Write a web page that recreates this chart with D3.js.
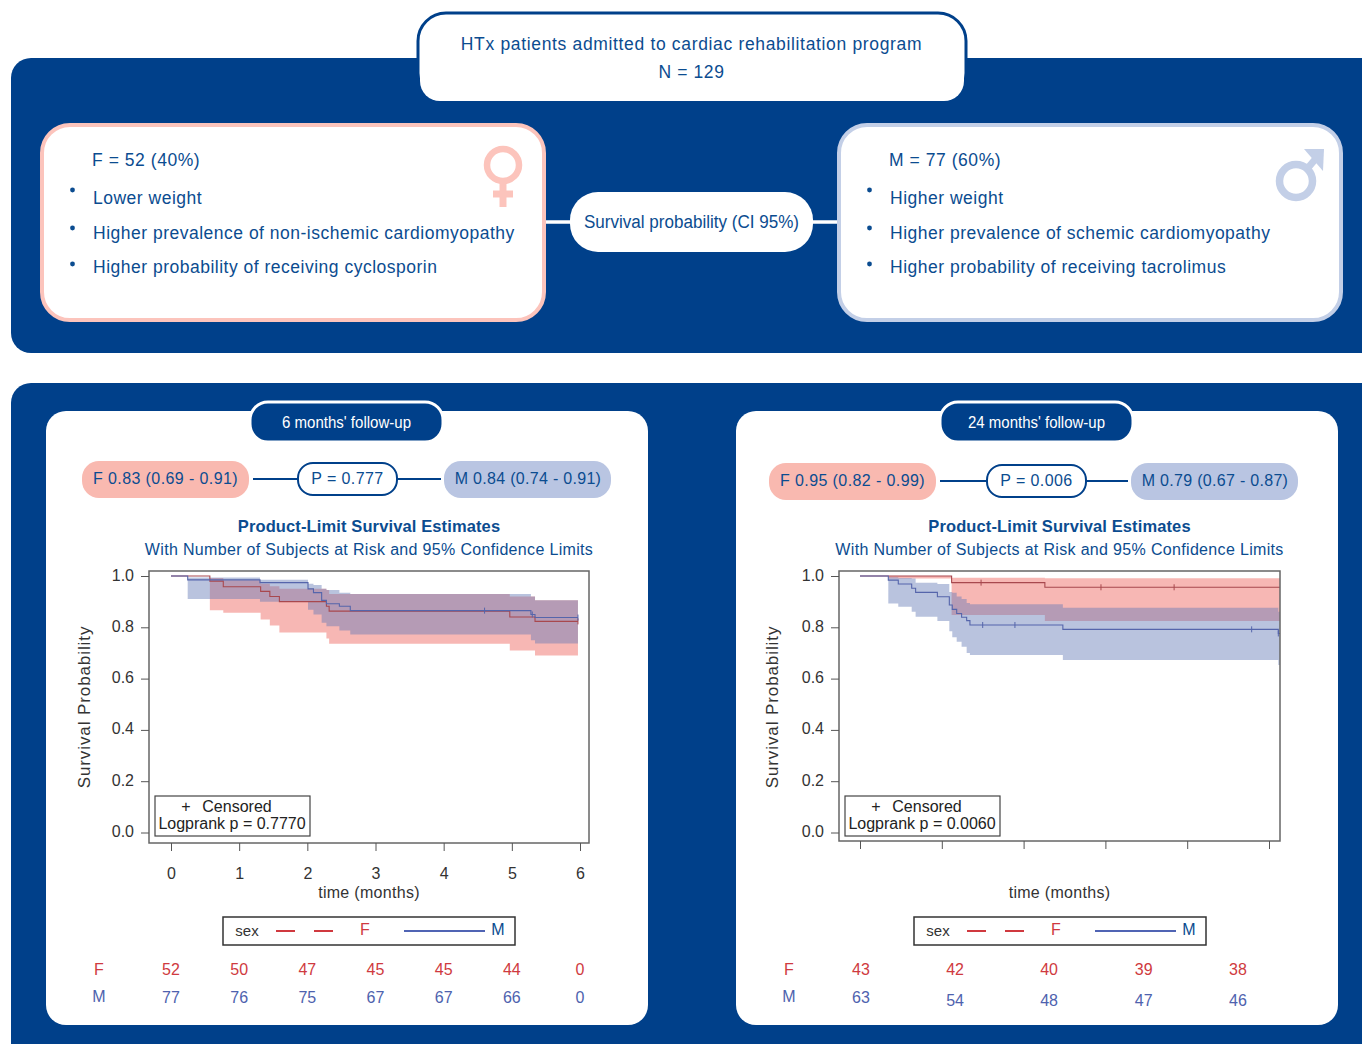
<!DOCTYPE html>
<html>
<head>
<meta charset="utf-8">
<script src="https://cdn.jsdelivr.net/npm/d3@7"></script>
<style>
  body { margin: 0; background: #fff; overflow: hidden; }
  text { font-family: "Liberation Sans", Arial, sans-serif; }
</style>
</head>
<body>
<div id="chart"></div>
<script>
const navy = "#00408a";
const textBlue = "#0b4c90";

// 6 months curves
const f6Time = [0, 0.57, 0.767, 1.315, 1.45, 1.59, 2.28, 2.32, 4.97, 5.34, 5.97];
const f6Surv = [1, 0.98, 0.958, 0.94, 0.92, 0.90, 0.882, 0.863, 0.84, 0.823, 0.823];
const f6Low = [1, 0.866, 0.857, 0.83, 0.807, 0.78, 0.756, 0.736, 0.71, 0.69, 0.69];
const f6Up = [1, 0.992, 0.983, 0.97, 0.96, 0.95, 0.945, 0.93, 0.92, 0.905, 0.905];
const f6Cens = [5.97];
const m6Time = [0, 0.245, 1.305, 2.01, 2.09, 2.21, 2.28, 2.47, 2.63, 5.28, 5.34, 5.97];
const m6Surv = [1, 0.985, 0.974, 0.95, 0.935, 0.905, 0.892, 0.882, 0.865, 0.85, 0.838, 0.838];
const m6Low = [1, 0.91, 0.90, 0.868, 0.85, 0.818, 0.804, 0.788, 0.772, 0.75, 0.737, 0.737];
const m6Up = [1, 0.994, 0.985, 0.97, 0.965, 0.95, 0.945, 0.935, 0.93, 0.92, 0.905, 0.905];
const m6Cens = [4.6, 5.3, 5.97];

// 24 months curves (axis has ticks every 5 units, unlabeled in the source)
const f24Time = [0, 1.73, 5.6, 11.3, 25.67];
const f24Surv = [1, 1, 0.974, 0.956, 0.956];
const f24Low = [1, 0.99, 0.848, 0.825, 0.825];
const f24Up = [1, 1, 0.993, 0.991, 0.991];
const f24Cens = [7.4, 14.73, 19.2];
const m24Time = [0, 1.73, 2.34, 3.16, 3.4, 4.73, 5.46, 5.64, 5.91, 6.21, 6.52, 6.72, 12.4, 25.57, 25.67];
const m24Surv = [1, 0.984, 0.969, 0.952, 0.936, 0.919, 0.887, 0.87, 0.854, 0.839, 0.826, 0.809, 0.792, 0.776, 0.776];
const m24Low = [1, 0.893, 0.88, 0.861, 0.841, 0.825, 0.785, 0.761, 0.744, 0.724, 0.70, 0.692, 0.673, 0.653, 0.653];
const m24Up = [1, 0.995, 0.992, 0.99, 0.974, 0.969, 0.938, 0.935, 0.92, 0.91, 0.895, 0.89, 0.876, 0.861, 0.861];
const m24Cens = [7.5, 9.47, 23.94, 25.57];

// at risk tables
const risk6Time = [0, 1, 2, 3, 4, 5, 6];
const risk6F = [52, 50, 47, 45, 45, 44, 0];
const risk6M = [77, 76, 75, 67, 67, 66, 0];
const risk24Time = [0.06, 5.81, 11.56, 17.34, 23.1];
const risk24F = [43, 42, 40, 39, 38];
const risk24M = [63, 54, 48, 47, 46];

const yTicks = [0, 0.2, 0.4, 0.6, 0.8, 1];
const x6Ticks = [0, 1, 2, 3, 4, 5, 6];
const x24Ticks = [0, 5, 10, 15, 20, 25];

const femaleLines = ["Lower weight", "Higher prevalence of non-ischemic cardiomyopathy", "Higher probability of receiving cyclosporin"];
const maleLines = ["Higher weight", "Higher prevalence of schemic cardiomyopathy", "Higher probability of receiving tacrolimus"];

const svg = d3.select("#chart").append("svg")
  .attr("width", 1362).attr("height", 1044);

function zip(t, s, lo, up) {
  return t.map((d, i) => ({t: d, s: s[i], lo: lo[i], up: up[i]}));
}

function label(g, x, y, str, size, color, anchor) {
  return g.append("text")
    .attr("x", x).attr("y", y + 2)
    .attr("text-anchor", anchor || "middle")
    .attr("dominant-baseline", "middle")
    .style("font-size", size + "px")
    .style("fill", color)
    .text(str);
}

// ---- top section ----
svg.append("rect").attr("x", 11).attr("y", 58).attr("width", 1420).attr("height", 295).attr("rx", 20).attr("fill", navy);
svg.append("rect").attr("x", 11).attr("y", 383).attr("width", 1420).attr("height", 720).attr("rx", 20).attr("fill", navy);

svg.append("rect").attr("x", 418).attr("y", 13).attr("width", 548).attr("height", 88).attr("rx", 28)
  .attr("fill", "#fff").attr("stroke", navy).attr("stroke-width", 3);
svg.append("rect").attr("x", 420).attr("y", 58).attr("width", 544).attr("height", 43).attr("rx", 20).attr("fill", "#fff");
label(svg, 691.5, 43, "HTx patients admitted to cardiac rehabilitation program", 17.5, textBlue).style("letter-spacing", "0.66px");
label(svg, 691.5, 71, "N = 129", 17.5, textBlue).style("letter-spacing", "0.6px");

// connector + center pill
svg.append("line").attr("x1", 540).attr("x2", 845).attr("y1", 222).attr("y2", 222).attr("stroke", "#fff").attr("stroke-width", 3.5);
svg.append("rect").attr("x", 570).attr("y", 192).attr("width", 243).attr("height", 60).attr("rx", 28).attr("fill", "#fff");
label(svg, 691.5, 221, "Survival probability (CI 95%)", 18, textBlue).attr("textLength", 215).attr("lengthAdjust", "spacingAndGlyphs");

function sexBox(x0, stroke, head, lines) {
  svg.append("rect").attr("x", x0).attr("y", 125).attr("width", 502).attr("height", 195).attr("rx", 28)
    .attr("fill", "#fff").attr("stroke", stroke).attr("stroke-width", 4);
  label(svg, x0 + 50, 159, head, 17.5, textBlue, "start").style("letter-spacing", "0.55px");
  lines.forEach((s, i) => {
    const yy = [197, 232, 266][i];
    svg.append("circle").attr("cx", x0 + 30.5).attr("cy", [190, 228, 264][i]).attr("r", 2.4).attr("fill", textBlue);
    label(svg, x0 + 51, yy, s, 17.5, textBlue, "start").style("letter-spacing", "0.5px");
  });
}
sexBox(42, "#fcc4bc", "F = 52 (40%)", femaleLines);
sexBox(839, "#c3cfe7", "M = 77 (60%)", maleLines);

// venus
const venus = svg.append("g").attr("stroke", "#fcc4bc").attr("fill", "none");
venus.append("circle").attr("cx", 503).attr("cy", 165).attr("r", 16).attr("stroke-width", 6.5);
venus.append("line").attr("x1", 503).attr("x2", 503).attr("y1", 183).attr("y2", 207).attr("stroke-width", 7);
venus.append("line").attr("x1", 493).attr("x2", 513).attr("y1", 194).attr("y2", 194).attr("stroke-width", 7);
// mars
const mars = svg.append("g").attr("stroke", "#c3cfe7").attr("fill", "none");
mars.append("circle").attr("cx", 1296).attr("cy", 181).attr("r", 16.5).attr("stroke-width", 7.5);
mars.append("line").attr("x1", 1307).attr("x2", 1318).attr("y1", 169).attr("y2", 156).attr("stroke-width", 7);
mars.append("path").attr("d", "M1304,149L1324,149L1323,171Z").attr("fill", "#c3cfe7").attr("stroke", "none");

// ---- bottom panels ----
function panel(cfg) {
  const g = svg.append("g");

  g.append("rect").attr("x", cfg.card).attr("y", 411).attr("width", 602).attr("height", 614).attr("rx", 20).attr("fill", "#fff");
  g.append("rect").attr("x", cfg.tab).attr("y", 402).attr("width", 193).attr("height", 40).attr("rx", 18)
    .attr("fill", navy).attr("stroke", "#fff").attr("stroke-width", 3);
  label(g, cfg.tab + 96.5, 422, cfg.tabText, 16, "#fff").attr("textLength", cfg.tabLength).attr("lengthAdjust", "spacingAndGlyphs");

  // pills row
  const py = cfg.pillY;
  g.append("line").attr("x1", cfg.fPill + 171).attr("x2", cfg.pPill).attr("y1", py).attr("y2", py).attr("stroke", navy).attr("stroke-width", 2);
  g.append("line").attr("x1", cfg.pPill + 99).attr("x2", cfg.mPill - 3).attr("y1", py).attr("y2", py).attr("stroke", navy).attr("stroke-width", 2);
  g.append("rect").attr("x", cfg.fPill).attr("y", py - 18).attr("width", 167).attr("height", 37).attr("rx", 17).attr("fill", "#f9b9b0");
  g.append("rect").attr("x", cfg.mPill).attr("y", py - 18).attr("width", 167).attr("height", 37).attr("rx", 17).attr("fill", "#b9c5e2");
  g.append("rect").attr("x", cfg.pPill).attr("y", py - 16).attr("width", 99).attr("height", 32).attr("rx", 15)
    .attr("fill", "#fff").attr("stroke", navy).attr("stroke-width", 2);
  label(g, cfg.fPill + 83.5, py - 1, cfg.fText, 16, textBlue).style("letter-spacing", "0.4px");
  label(g, cfg.mPill + 84, py - 1, cfg.mText, 16, textBlue).style("letter-spacing", "0.3px");
  label(g, cfg.pPill + 49.5, py - 1, cfg.pText, 16, textBlue).style("letter-spacing", "0.4px");

  const cx = cfg.center;
  label(g, cx, 526, "Product-Limit Survival Estimates", 16.5, textBlue).style("font-weight", "bold").style("letter-spacing", "0.12px");
  label(g, cx, 549, "With Number of Subjects at Risk and 95% Confidence Limits", 16, textBlue).style("letter-spacing", "0.33px");

  const x = d3.scaleLinear().domain(cfg.xDomain).range(cfg.xRange);
  const y = d3.scaleLinear().domain([0, 1]).range([832.5, 576]);

  // CI bands
  const band = d3.area().curve(d3.curveStepAfter).x(d => x(d.t)).y0(d => y(d.lo)).y1(d => y(d.up));
  const line = d3.line().curve(d3.curveStepAfter).x(d => x(d.t)).y(d => y(d.s));
  g.append("path").attr("d", band(cfg.f)).attr("fill", "#ef6f6a").attr("fill-opacity", 0.5);
  g.append("path").attr("d", band(cfg.m)).attr("fill", "#647ab6").attr("fill-opacity", 0.45);
  g.append("path").attr("d", line(cfg.f)).attr("fill", "none").attr("stroke", "#a8484e").attr("stroke-width", 1.1);
  g.append("path").attr("d", line(cfg.m)).attr("fill", "none").attr("stroke", "#5565ab").attr("stroke-width", 1.1);

  const stepValue = (rows, t) => rows[d3.bisectRight(rows.map(r => r.t), t) - 1].s;
  [[cfg.fCens, cfg.f, "#a8484e"], [cfg.mCens, cfg.m, "#5565ab"]].forEach(([cens, rows, color]) => {
    g.append("g").selectAll("line").data(cens).enter().append("line")
      .attr("x1", d => x(d)).attr("x2", d => x(d))
      .attr("y1", d => y(stepValue(rows, d)) - 3).attr("y2", d => y(stepValue(rows, d)) + 3)
      .attr("stroke", color).attr("stroke-width", 1);
  });

  // frame and axes
  g.append("rect").attr("x", cfg.frame[0]).attr("y", 571).attr("width", cfg.frame[1] - cfg.frame[0]).attr("height", cfg.frameBottom - 571)
    .attr("fill", "none").attr("stroke", "#666").attr("stroke-width", 1.5);

  const yAxis = g.append("g").attr("transform", `translate(${cfg.frame[0]},0)`)
    .call(d3.axisLeft(y).tickValues(yTicks).tickFormat(d3.format(".1f")).tickSize(8).tickPadding(7));
  yAxis.select(".domain").remove();
  yAxis.selectAll("line").attr("stroke", "#555");
  yAxis.selectAll("text").style("font-size", "16px").style("fill", "#333").attr("dy", "0.25em");

  const xAxis = g.append("g").attr("transform", `translate(0,${cfg.frameBottom})`)
    .call(d3.axisBottom(x).tickValues(cfg.xTicks).tickFormat(cfg.xLabels ? d3.format("d") : "").tickSize(8).tickPadding(17));
  xAxis.select(".domain").remove();
  xAxis.selectAll("line").attr("stroke", "#555");
  xAxis.selectAll("text").style("font-size", "16px").style("fill", "#333");

  label(g, cx, 892, "time (months)", 16, "#333").style("letter-spacing", "0.3px");
  g.append("text").attr("transform", `translate(${cfg.yLabelX},707) rotate(-90)`)
    .attr("text-anchor", "middle").attr("dominant-baseline", "middle")
    .style("font-size", "17px").style("fill", "#333").style("letter-spacing", "0.9px").text("Survival Probability");

  // censored box
  const bx = cfg.frame[0] + 6;
  g.append("rect").attr("x", bx).attr("y", 796).attr("width", 155).attr("height", 40).attr("fill", "#fff").attr("stroke", "#444").attr("stroke-width", 1.2);
  label(g, bx + 31, 806, "+", 16, "#222");
  label(g, bx + 82, 806, "Censored", 16, "#222");
  label(g, bx + 77, 823, cfg.logrank, 16, "#222");

  // sex legend
  const lx = cfg.legend;
  g.append("rect").attr("x", lx).attr("y", 917).attr("width", 292).attr("height", 28).attr("fill", "#fff").attr("stroke", "#333").attr("stroke-width", 1.5);
  label(g, lx + 24, 930, "sex", 15, "#333");
  g.append("line").attr("x1", lx + 53).attr("x2", lx + 110).attr("y1", 931).attr("y2", 931)
    .attr("stroke", "#d0393f").attr("stroke-width", 2).attr("stroke-dasharray", "19,19");
  label(g, lx + 142, 929, "F", 16, "#d0393f");
  g.append("line").attr("x1", lx + 181).attr("x2", lx + 262).attr("y1", 931).attr("y2", 931).attr("stroke", "#5064b4").attr("stroke-width", 2);
  label(g, lx + 275, 929, "M", 16, textBlue);

  // at risk rows
  label(g, cfg.rowLabel, 969, "F", 16, "#cf3a40");
  label(g, cfg.rowLabel, 996, "M", 16, "#4e62ae");
  g.append("g").selectAll("text").data(cfg.riskF).enter().append("text")
    .attr("x", (d, i) => x(cfg.riskTime[i])).attr("y", 971)
    .attr("text-anchor", "middle").attr("dominant-baseline", "middle")
    .style("font-size", "16px").style("fill", "#cf3a40").text(d => d);
  g.append("g").selectAll("text").data(cfg.riskM).enter().append("text")
    .attr("x", (d, i) => x(cfg.riskTime[i])).attr("y", (d, i) => 998.5 + (i > 0 ? cfg.mRowShift : 0))
    .attr("text-anchor", "middle").attr("dominant-baseline", "middle")
    .style("font-size", "16px").style("fill", "#4e62ae").text(d => d);
}

panel({
  card: 46, tab: 250, tabText: "6 months' follow-up", tabLength: 129,
  pillY: 479, fPill: 82, pPill: 298, mPill: 444,
  fText: "F 0.83 (0.69 - 0.91)", mText: "M 0.84 (0.74 - 0.91)", pText: "P = 0.777",
  center: 369, frame: [149, 589], frameBottom: 843,
  xDomain: [0, 6], xRange: [171, 580], xTicks: x6Ticks, xLabels: true,
  f: zip(f6Time, f6Surv, f6Low, f6Up), m: zip(m6Time, m6Surv, m6Low, m6Up),
  fCens: f6Cens, mCens: m6Cens,
  logrank: "Logprank p = 0.7770", legend: 223, yLabelX: 86, rowLabel: 99,
  riskTime: risk6Time, riskF: risk6F, riskM: risk6M, mRowShift: 0
});

panel({
  card: 736, tab: 940, tabText: "24 months' follow-up", tabLength: 137,
  pillY: 481, fPill: 769, pPill: 987, mPill: 1131,
  fText: "F 0.95 (0.82 - 0.99)", mText: "M 0.79 (0.67 - 0.87)", pText: "P = 0.006",
  center: 1059.5, frame: [839, 1280], frameBottom: 841,
  xDomain: [0, 25], xRange: [860, 1269], xTicks: x24Ticks, xLabels: false,
  f: zip(f24Time, f24Surv, f24Low, f24Up), m: zip(m24Time, m24Surv, m24Low, m24Up),
  fCens: f24Cens, mCens: m24Cens,
  logrank: "Logprank p = 0.0060", legend: 914, yLabelX: 774, rowLabel: 789,
  riskTime: risk24Time, riskF: risk24F, riskM: risk24M, mRowShift: 3
});
</script>
</body>
</html>
